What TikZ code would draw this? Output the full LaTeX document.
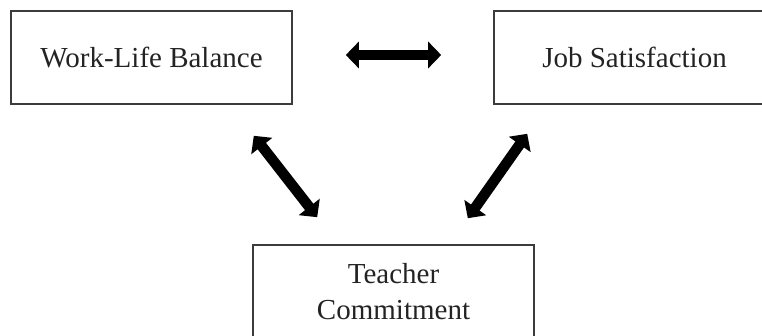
\documentclass[tikz,border=0pt]{standalone}
\usepackage{fontspec}
\setmainfont{Liberation Serif}
\usepackage{tikz}
\usetikzlibrary{arrows.meta, positioning}
\definecolor{boxgray}{RGB}{60,60,60}
\definecolor{txtgray}{RGB}{35,35,35}

\begin{document}
\begin{tikzpicture}[x=1bp, y=1bp,
    varbox/.style={draw=boxgray, line width=1.6bp, minimum width=281bp, minimum height=93bp,
      align=center, text=txtgray, font=\fontsize{29bp}{36bp}\selectfont, inner sep=0pt},
    biarrow/.style={line width=10.5bp, {Triangle[length=13bp,width=26bp]}-{Triangle[length=13bp,width=26bp]}}]
  \useasboundingbox (0,0) rectangle (762,335);
  \clip (0,0) rectangle (762,335);
  % the three constructs
  \node[varbox] (wlb) at (151.5,277.5) {Work-Life Balance};
  \node[varbox] (js) at (634.5,277.5) {Job Satisfaction};
  \node[varbox, minimum height=94bp] (tc) at (393.5,43) {Teacher\\Commitment};
  % links
  \draw[biarrow, line width=10bp] ([xshift=53bp,yshift=2.5bp]wlb.east) -- ([xshift=-52bp,yshift=2.5bp]js.west);
  \draw[biarrow] ([xshift=-39bp,yshift=-31bp]wlb.south east) -- ([xshift=65bp,yshift=27bp]tc.north west);
  \draw[biarrow] ([xshift=34bp,yshift=-29bp]js.south west) -- ([xshift=-67bp,yshift=26bp]tc.north east);
\end{tikzpicture}
\end{document}
